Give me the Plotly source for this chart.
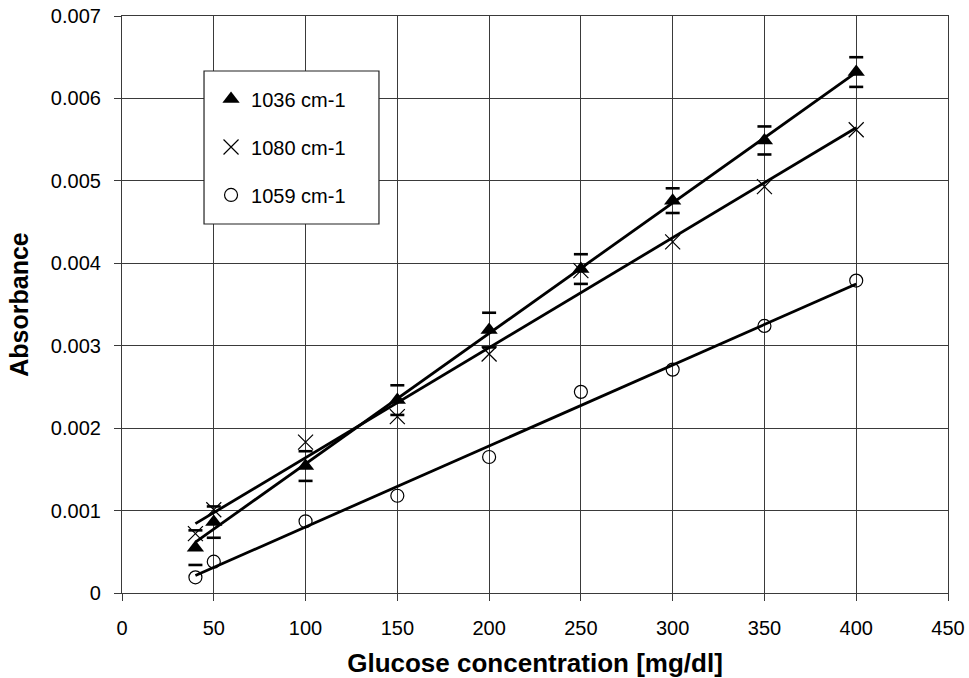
import numpy as np
import plotly.graph_objects as go

conc = [40, 50, 100, 150, 200, 250, 300, 350, 400]
abs_1036 = [0.00055, 0.00086, 0.00154, 0.00234, 0.00319, 0.00393, 0.00476, 0.00549, 0.00632]
err_1036 = [0.00021, 0.00019, 0.00018, 0.00018, 0.00021, 0.00018, 0.00015, 0.00017, 0.00018]
abs_1080 = [0.00072, 0.00101, 0.00183, 0.00214, 0.00290, 0.00391, 0.00426, 0.00493, 0.00562]
abs_1059 = [0.00019, 0.00038, 0.00087, 0.00118, 0.00165, 0.00244, 0.00271, 0.00324, 0.00379]

names = ["1036 cm-1", "1080 cm-1", "1059 cm-1"]
x_ticks = [0, 50, 100, 150, 200, 250, 300, 350, 400, 450]
y_ticks = [0, 0.001, 0.002, 0.003, 0.004, 0.005, 0.006, 0.007]
y_labels = ["0", "0.001", "0.002", "0.003", "0.004", "0.005", "0.006", "0.007"]

fig = go.Figure()

# trend lines (linear least-squares fits of the data)
xfit = np.array([min(conc), max(conc)])
for ys in [abs_1036, abs_1080, abs_1059]:
    m, b = np.polyfit(conc, ys, 1)
    fig.add_trace(go.Scatter(x=xfit, y=m * xfit + b, mode="lines",
                             line=dict(color="black", width=2.8),
                             showlegend=False, hoverinfo="skip"))

# error-bar caps only (the reference shows no stems)
y_arr = np.array(abs_1036)
e_arr = np.array(err_1036)
for ys in [y_arr + e_arr, y_arr - e_arr]:
    fig.add_trace(go.Scatter(x=conc, y=ys, mode="markers", showlegend=False,
                             hoverinfo="skip",
                             marker=dict(symbol="line-ew", size=10,
                                         line=dict(color="black", width=2.6))))

fig.add_trace(go.Scatter(
    x=conc, y=abs_1036, mode="markers", name=names[0], legendgroup="a",
    marker=dict(symbol="triangle-up", size=15, color="black")))
fig.add_trace(go.Scatter(
    x=conc, y=abs_1080, mode="markers", name=names[1], legendgroup="b",
    marker=dict(symbol="x-thin-open", size=15, color="black",
                line=dict(color="black", width=1.2))))
fig.add_trace(go.Scatter(
    x=conc, y=abs_1059, mode="markers", name=names[2], legendgroup="c",
    marker=dict(symbol="circle-open", size=13, color="black",
                line=dict(color="black", width=1.2))))

grid = "#3a3a3a"
fig.add_shape(type="rect", xref="paper", yref="paper",
              x0=0.0993, x1=0.3111, y0=0.6395, y1=0.9047,
              line=dict(color="#222222", width=1.2), fillcolor="white",
              layer="above")

fig.update_layout(
    width=969, height=678,
    margin=dict(l=122, r=21, t=16, b=85, autoexpand=False),
    paper_bgcolor="white", plot_bgcolor="white",
    font=dict(family="Liberation Sans, Arial, sans-serif", size=20, color="black"),
    showlegend=True,
    legend=dict(x=0.1078, y=0.890, xanchor="left", yanchor="top",
                borderwidth=0, bgcolor="rgba(0,0,0,0)",
                font=dict(size=20), tracegroupgap=19, traceorder="grouped",
                itemsizing="trace"),
    xaxis=dict(range=[0, 450], tickvals=x_ticks, ticks="outside", ticklen=7,
               tickcolor=grid, showgrid=True, gridcolor=grid, gridwidth=1.2,
               showline=True, linecolor=grid, linewidth=1.2, mirror=True,
               zeroline=False, automargin=False, ticklabelstandoff=10,
               ticklabeloverflow="allow",
               title=dict(text="<b>Glucose concentration [mg/dl]</b>",
                          font=dict(size=26), standoff=18)),
    yaxis=dict(range=[0, 0.007], tickvals=y_ticks, ticktext=y_labels,
               ticks="outside", ticklen=7, tickcolor=grid,
               showgrid=True, gridcolor=grid, gridwidth=1.2,
               showline=True, linecolor=grid, linewidth=1.2, mirror=True,
               zeroline=False, automargin=False, ticklabelstandoff=9,
               ticklabeloverflow="allow",
               title=dict(text="<b>Absorbance</b>", font=dict(size=25), standoff=15)),
)

fig.write_html("out.html",
               config={"displayModeBar": False},
               post_script="document.body.style.margin='0';"
                           "document.documentElement.style.overflow='hidden';")
